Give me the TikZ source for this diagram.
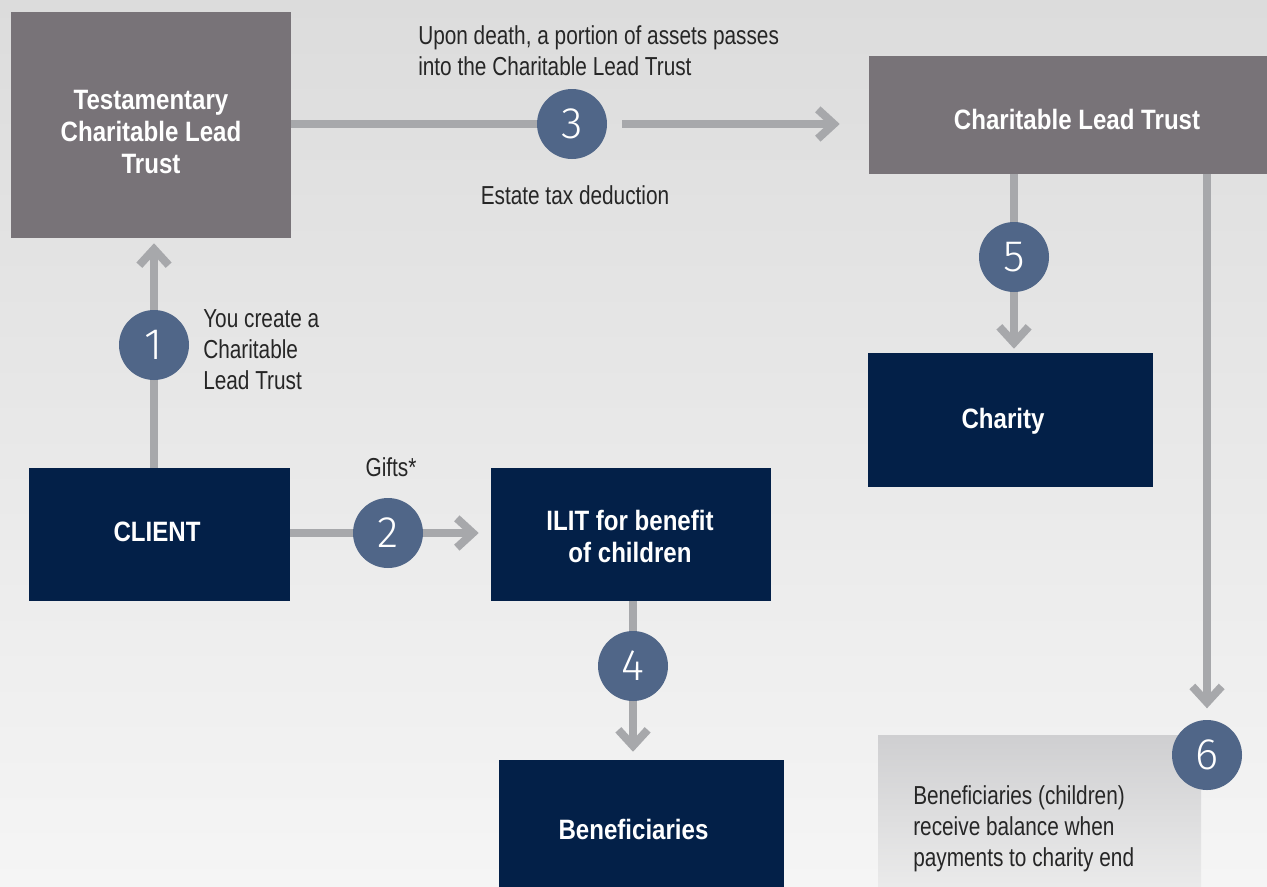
\documentclass[tikz,border=0pt]{standalone}
\usepackage{fontspec}
\setmainfont{Liberation Sans}
\newfontfamily\labfont{Liberation Sans Bold}[FakeStretch=0.86]
\newfontfamily\bodyfont{Liberation Sans}[FakeStretch=0.8]
\newfontfamily\numfont{Fira Sans Light}
\usetikzlibrary{arrows.meta}

\definecolor{bgtop}{RGB}{220,220,220}
\definecolor{bgbot}{RGB}{245,245,245}
\definecolor{plum}{RGB}{120,115,120}
\definecolor{navy}{RGB}{3,32,72}
\definecolor{disc}{RGB}{80,102,136}
\definecolor{shaft}{RGB}{167,168,171}
\definecolor{ink}{RGB}{38,38,38}
\definecolor{notetop}{RGB}{207,207,209}
\definecolor{notebot}{RGB}{236,236,236}

\tikzset{
  plainbox/.style={inner sep=0pt},
  trustbox/.style={plainbox, fill=plum},
  navybox/.style={plainbox, fill=navy},
  boxlabel/.style={text=white, inner sep=0pt, align=center,
    font=\labfont\fontsize{21}{24}\selectfont},
  stepdisc/.style={circle, fill=disc, text=white, minimum size=52.5pt, inner sep=0pt,
    font=\numfont\fontsize{33}{33}\selectfont},
  note/.style={text=ink, inner sep=0pt, align=left,
    font=\bodyfont\fontsize{19.5}{23.25}\selectfont},
  conn/.style={draw=shaft, line width=6pt},
  tipped/.style={conn, -{Straight Barb[length=12pt,width=22pt]}}
}

\begin{document}
\begin{tikzpicture}[x=0.75pt, y=-0.75pt]
  % page and background wash
  \useasboundingbox (0,0) rectangle (1267,886);
  \fill[top color=bgtop, bottom color=bgbot] (0,0) rectangle (1267,886);

  % step positions
  \coordinate (p1) at (154,345);
  \coordinate (p2) at (388,533);
  \coordinate (p3) at (572,124);
  \coordinate (p4) at (633,666);
  \coordinate (p5) at (1014,257);
  \coordinate (p6) at (1207,755);

  % boxes
  \node[trustbox, minimum width=210pt, minimum height=169.5pt] (tclt) at (151,125) {};
  \node[trustbox, minimum width=312pt, minimum height=88.5pt] (clt) at (1077,115) {};
  \node[navybox, minimum width=195.75pt, minimum height=99.75pt] (client) at (159.5,534.5) {};
  \node[navybox, minimum width=210pt, minimum height=99.75pt] (ilit) at (631,534.5) {};
  \node[navybox, minimum width=213.75pt, minimum height=100.5pt] (charity) at (1010.5,420) {};
  \node[navybox, minimum width=213.75pt, minimum height=102pt] (benef) at (641.5,828) {};
  \node[plainbox, top color=notetop, bottom color=notebot,
        minimum width=242.25pt, minimum height=120.75pt] (balance) at (1039.5,815.5) {};

  % connectors
  \draw[tipped, shorten >=3.75pt] (client.north -| p1) -- (tclt.south -| p1);
  \draw[tipped, shorten >=9pt] (client.east |- p2) -- (ilit.west |- p2);
  \draw[conn] (tclt.east |- p3) -- (p3);
  \draw[tipped, shorten <=37.5pt, shorten >=21.75pt] (p3) -- (clt.west |- p3);
  \draw[tipped, shorten >=6pt] (ilit.south -| p4) -- (benef.north -| p4);
  \draw[tipped, shorten >=3pt] (clt.south -| p5) -- (charity.north -| p5);
  \draw[tipped, shorten >=35pt] (clt.south -| p6) -- (p6);

  % box labels
  \node[boxlabel] (tcltlabel) at (151,132) {Testamentary\\Charitable Lead\\Trust};
  \node[boxlabel] (cltlabel) at (1077,119) {Charitable Lead Trust};
  \node[boxlabel] (clientlabel) at (157,532) {CLIENT};
  \node[boxlabel] (ilitlabel) at (630,536) {ILIT for benefit\\of children};
  \node[boxlabel] (charitylabel) at (1003,421) {Charity};
  \node[boxlabel] (beneflabel) at (633.5,829) {Beneficiaries};

  % step discs
  \node[stepdisc] (c1) at (p1) {1};
  \node[stepdisc] (c2) at (p2) {2};
  \node[stepdisc] (c3) at (p3) {3};
  \node[stepdisc] (c4) at (p4) {4};
  \node[stepdisc] (c5) at (p5) {5};
  \node[stepdisc] (c6) at (p6) {6};

  % notes
  \node[note, anchor=west] (n3) at (418,51) {Upon death, a portion of assets passes\\into the Charitable Lead Trust};
  \node[note] (n3b) at (575,195) {Estate tax deduction};
  \node[note, anchor=west] (n1) at (203,350) {You create a\\Charitable\\Lead Trust};
  \node[note] (n2) at (391,467) {Gifts*};
  \node[note, anchor=west] (n6) at (913,829) {Beneficiaries (children)\\receive balance when\\payments to charity end};
\end{tikzpicture}
\end{document}
